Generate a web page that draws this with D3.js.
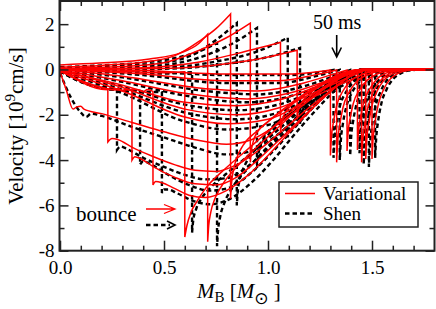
<!DOCTYPE html>
<html><head><meta charset="utf-8">
<script src="https://cdn.jsdelivr.net/npm/d3@7"></script>
<style>
body{margin:0;background:#fff}
svg{display:block}
text{font-family:"Liberation Serif","Times New Roman",serif;fill:#000}
</style></head>
<body><svg id="c" width="436" height="309"></svg>
<script>
// ---- axis ticks ----
const xTickValues=[0,0.5,1.0,1.5];
const xTickLabels=["0.0","0.5","1.0","1.5"];
const xMinorTicks=[0.1,0.2,0.3,0.4,0.6,0.7,0.8,0.9,1.1,1.2,1.3,1.4,1.6,1.7];
const yTickValues=[2,0,-2,-4,-6,-8];
const yTickLabels=["2","0","-2","-4","-6","-8"];
const yMinorTicks=[1,-1,-3,-5,-7];

// ---- Variational EOS: profile inside the shock [M, v] ----
const variationalInner=[
 [[0,-0.1],[0.03,-0.9],[0.063,-1.75],[0.08,-1.65],[0.1,-1.62],[0.115,-1.75],[0.2,-1.95],[0.35,-2.35],[0.5,-2.75],[0.65,-3.1],[0.8,-3.3],[0.92,-3.1],[1.05,-2.4],[1.2,-1.35],[1.32,-0.55],[1.45,0],[1.8,0]],
 [[0,-0.05],[0.08,-0.45],[0.15,-0.75],[0.2,-0.87],[0.23,-0.9]],
 [[0,-0.05],[0.1,-0.5],[0.2,-0.8],[0.26,-0.9],[0.28,-0.83],[0.3,-0.95],[0.32,-0.86],[0.346,-0.95]],
 [[0,-0.05],[0.1,-0.5],[0.2,-0.8],[0.3,-0.92],[0.37,-0.88],[0.4,-0.98],[0.42,-0.88],[0.447,-0.97]],
 [[0,-0.02],[0.3,-0.08],[0.5,-0.15],[0.6,-0.1]],
 [[0,0.2],[0.19,0.28],[0.43,0.46],[0.58,0.73],[0.67,1.17],[0.71,1.56]],
 [[0,0.1],[0.2,0.18],[0.4,0.32],[0.55,0.6],[0.67,1.25],[0.75,1.8],[0.82,2.45]],
 [[0,0.05],[0.3,0.13],[0.5,0.3],[0.67,0.85],[0.8,1.4],[0.915,2.05]],
 [[0,0.02],[0.4,0.08],[0.67,0.33],[0.85,0.7],[1.06,1.2]],
 [[0,0],[0.5,0.04],[0.8,0.25],[1.0,0.55],[1.14,0.85]],
 [[0,0.02],[0.4,-0.05],[0.8,-0.2],[1.1,-0.2],[1.3,-0.02]],
 [[0,0],[0.4,-0.2],[0.8,-0.5],[1.05,-0.5],[1.22,-0.25],[1.33,-0.02]],
 [[0,0],[0.3,-0.3],[0.7,-0.85],[0.95,-0.95],[1.15,-0.65],[1.3,-0.25],[1.38,-0.02]],
 [[0,-0.02],[0.3,-0.5],[0.6,-1.05],[0.9,-1.3],[1.1,-1.05],[1.3,-0.45],[1.43,-0.02]],
 [[0,-0.05],[0.3,-0.7],[0.6,-1.45],[0.85,-1.6],[1.05,-1.35],[1.25,-0.7],[1.45,-0.02]],
 [[0,-0.05],[0.3,-0.8],[0.6,-1.75],[0.85,-2.0],[1.05,-1.7],[1.25,-0.9],[1.47,-0.02]],
 [[0,-0.1],[0.3,-0.95],[0.6,-2.1],[0.8,-2.4],[1.0,-2.2],[1.2,-1.3],[1.5,-0.02]]
];
// ---- Variational EOS: profile outside the shock [M, v] ----
const variationalOuter=[
 [],
 [[0.23,-3.2],[0.25,-3.05],[0.28,-3.1],[0.35,-3.45],[0.45,-3.85],[0.55,-4.2],[0.65,-4.45],[0.75,-4.5],[0.85,-4.2],[0.95,-3.6],[1.05,-2.85],[1.15,-2.05],[1.25,-1.3],[1.35,-0.6],[1.45,0],[1.8,0]],
 [[0.346,-4.0],[0.36,-3.85],[0.39,-3.95],[0.45,-4.3],[0.55,-4.75],[0.65,-5.05],[0.75,-5.1],[0.85,-4.75],[0.95,-4.0],[1.05,-3.15],[1.15,-2.25],[1.25,-1.4],[1.35,-0.6],[1.45,-0.05],[1.8,0]],
 [[0.447,-5.1],[0.46,-4.95],[0.49,-5.0],[0.55,-5.25],[0.62,-5.55],[0.7,-5.65],[0.8,-5.35],[0.9,-4.7],[1.0,-3.8],[1.1,-2.8],[1.2,-1.85],[1.3,-0.95],[1.42,-0.15],[1.5,0],[1.8,0]],
 [[0.6,-7.4],[0.61,-6.9],[0.63,-6.3],[0.66,-5.8],[0.7,-5.25],[0.78,-4.5],[0.88,-3.7],[0.98,-2.9],[1.08,-2.1],[1.18,-1.35],[1.28,-0.7],[1.37,-0.2],[1.45,0],[1.8,0]],
 [[0.71,-7.6],[0.715,-6.9],[0.725,-6.3],[0.745,-5.7],[0.78,-5.1],[0.85,-4.3],[0.95,-3.4],[1.05,-2.55],[1.15,-1.7],[1.25,-0.95],[1.35,-0.35],[1.45,0],[1.8,0]],
 [[0.82,-5.7],[0.825,-5.0],[0.835,-4.4],[0.85,-3.9],[0.88,-3.35],[0.95,-2.7],[1.05,-1.95],[1.15,-1.3],[1.25,-0.7],[1.35,-0.25],[1.45,0],[1.8,0]],
 [[0.915,-4.1],[0.92,-3.6],[0.93,-3.15],[0.95,-2.75],[1.0,-2.3],[1.08,-1.7],[1.18,-1.05],[1.28,-0.5],[1.37,-0.12],[1.45,0],[1.8,0]],
 [[1.06,-2.8],[1.065,-2.4],[1.075,-2.05],[1.1,-1.7],[1.15,-1.3],[1.22,-0.85],[1.3,-0.4],[1.38,-0.1],[1.45,0],[1.8,0]],
 [[1.14,-2.2],[1.145,-1.85],[1.16,-1.5],[1.19,-1.15],[1.25,-0.75],[1.32,-0.38],[1.4,-0.1],[1.46,0],[1.8,0]],
 [[1.30,-3.8],[1.305,-3.0],[1.315,-2.3],[1.33,-1.6],[1.36,-0.95],[1.40,-0.5],[1.46,-0.2],[1.55,-0.04],[1.65,0],[1.8,0]],
 [[1.33,-4.1],[1.335,-3.2],[1.345,-2.45],[1.36,-1.7],[1.39,-1.0],[1.43,-0.5],[1.49,-0.2],[1.57,-0.04],[1.66,0],[1.8,0]],
 [[1.38,-3.6],[1.385,-2.8],[1.395,-2.15],[1.41,-1.5],[1.44,-0.9],[1.48,-0.45],[1.53,-0.18],[1.6,-0.03],[1.68,0],[1.8,0]],
 [[1.43,-3.55],[1.435,-2.75],[1.445,-2.1],[1.46,-1.45],[1.49,-0.85],[1.52,-0.45],[1.57,-0.15],[1.63,-0.03],[1.7,0],[1.8,0]],
 [[1.45,-4.1],[1.455,-3.2],[1.465,-2.4],[1.48,-1.7],[1.505,-1.0],[1.54,-0.5],[1.58,-0.2],[1.64,-0.04],[1.72,0],[1.8,0]],
 [[1.47,-3.95],[1.475,-3.1],[1.485,-2.35],[1.5,-1.6],[1.525,-0.95],[1.555,-0.5],[1.6,-0.18],[1.66,-0.03],[1.74,0],[1.8,0]],
 [[1.50,-3.95],[1.505,-3.1],[1.515,-2.3],[1.53,-1.55],[1.555,-0.9],[1.585,-0.45],[1.625,-0.17],[1.68,-0.03],[1.75,0],[1.8,0]]
];

// ---- Shen EOS: profile inside the shock [M, v] ----
const shenInner=[
 [[0,-0.15],[0.05,-1.2],[0.1,-1.9],[0.125,-2.1],[0.15,-1.95],[0.2,-2.05],[0.35,-2.55],[0.5,-3.0],[0.65,-3.45],[0.8,-3.75],[0.92,-3.6],[1.05,-2.85],[1.2,-1.6],[1.32,-0.65],[1.46,0],[1.8,0]],
 [[0,-0.05],[0.1,-0.5],[0.2,-0.8],[0.274,-0.88]],
 [[0,-0.08],[0.1,-0.55],[0.2,-0.82],[0.3,-0.92],[0.385,-0.95]],
 [[0,-0.08],[0.1,-0.55],[0.25,-0.88],[0.4,-0.98],[0.49,-1.0]],
 [[0,-0.03],[0.3,-0.1],[0.5,-0.18],[0.635,-0.12]],
 [[0,0.1],[0.2,0.18],[0.4,0.3],[0.55,0.5],[0.67,0.8],[0.755,1.16]],
 [[0,0.05],[0.3,0.15],[0.5,0.3],[0.65,0.7],[0.75,1.3],[0.85,2.05]],
 [[0,0.03],[0.4,0.12],[0.6,0.35],[0.75,0.8],[0.85,1.25],[0.947,1.83]],
 [[0,0],[0.5,0.08],[0.75,0.35],[0.95,0.8],[1.095,1.4]],
 [[0,0],[0.5,0.03],[0.8,0.25],[1.0,0.55],[1.154,0.95]],
 [[0,0],[0.4,-0.08],[0.8,-0.25],[1.1,-0.25],[1.315,-0.02]],
 [[0,0],[0.4,-0.25],[0.8,-0.6],[1.05,-0.6],[1.25,-0.25],[1.345,-0.02]],
 [[0,-0.02],[0.3,-0.35],[0.7,-0.95],[0.95,-1.1],[1.15,-0.8],[1.3,-0.35],[1.395,-0.02]],
 [[0,-0.03],[0.3,-0.55],[0.6,-1.15],[0.9,-1.45],[1.1,-1.2],[1.3,-0.55],[1.44,-0.02]],
 [[0,-0.05],[0.3,-0.75],[0.6,-1.55],[0.85,-1.8],[1.05,-1.55],[1.25,-0.85],[1.46,-0.02]],
 [[0,-0.07],[0.3,-0.9],[0.6,-1.9],[0.85,-2.2],[1.05,-1.9],[1.25,-1.0],[1.485,-0.02]],
 [[0,-0.1],[0.3,-1.05],[0.6,-2.3],[0.8,-2.65],[1.0,-2.45],[1.2,-1.45],[1.515,-0.02]]
];
// ---- Shen EOS: profile outside the shock [M, v] ----
const shenOuter=[
 [],
 [[0.274,-3.55],[0.29,-3.4],[0.32,-3.5],[0.4,-3.9],[0.5,-4.3],[0.6,-4.65],[0.7,-4.85],[0.8,-4.8],[0.9,-4.3],[1.0,-3.5],[1.1,-2.6],[1.2,-1.7],[1.3,-0.9],[1.38,-0.35],[1.47,0],[1.8,0]],
 [[0.385,-4.2],[0.4,-4.05],[0.44,-4.2],[0.52,-4.65],[0.62,-5.1],[0.72,-5.35],[0.82,-5.2],[0.92,-4.55],[1.02,-3.65],[1.12,-2.65],[1.22,-1.65],[1.32,-0.8],[1.47,0],[1.8,0]],
 [[0.49,-5.45],[0.5,-5.3],[0.52,-5.3],[0.56,-5.45],[0.64,-5.8],[0.72,-5.95],[0.82,-5.7],[0.92,-5.0],[1.02,-4.05],[1.12,-2.95],[1.22,-1.9],[1.32,-0.95],[1.47,0],[1.8,0]],
 [[0.635,-7.2],[0.64,-6.7],[0.655,-6.15],[0.68,-5.7],[0.72,-5.25],[0.8,-4.6],[0.9,-3.85],[1.0,-3.05],[1.1,-2.25],[1.2,-1.45],[1.3,-0.75],[1.38,-0.25],[1.47,0],[1.8,0]],
 [[0.755,-7.8],[0.76,-7.1],[0.77,-6.5],[0.79,-5.9],[0.83,-5.2],[0.9,-4.4],[1.0,-3.4],[1.1,-2.45],[1.2,-1.55],[1.3,-0.8],[1.38,-0.3],[1.47,0],[1.8,0]],
 [[0.85,-6.0],[0.855,-5.35],[0.865,-4.8],[0.885,-4.3],[0.92,-3.75],[0.98,-3.1],[1.06,-2.35],[1.16,-1.5],[1.26,-0.8],[1.36,-0.28],[1.47,0],[1.8,0]],
 [[0.947,-4.35],[0.952,-3.85],[0.962,-3.4],[0.98,-3.0],[1.02,-2.55],[1.1,-1.9],[1.2,-1.2],[1.3,-0.6],[1.39,-0.15],[1.47,0],[1.8,0]],
 [[1.095,-3.0],[1.1,-2.6],[1.11,-2.25],[1.13,-1.9],[1.18,-1.45],[1.25,-0.95],[1.32,-0.5],[1.4,-0.15],[1.48,0],[1.8,0]],
 [[1.154,-2.4],[1.16,-2.0],[1.175,-1.65],[1.2,-1.3],[1.26,-0.85],[1.33,-0.42],[1.41,-0.12],[1.48,0],[1.8,0]],
 [[1.315,-3.9],[1.32,-3.1],[1.33,-2.4],[1.345,-1.65],[1.375,-1.0],[1.415,-0.52],[1.475,-0.2],[1.56,-0.04],[1.66,0],[1.8,0]],
 [[1.345,-4.0],[1.35,-3.15],[1.36,-2.4],[1.375,-1.7],[1.405,-1.0],[1.445,-0.5],[1.505,-0.2],[1.58,-0.04],[1.67,0],[1.8,0]],
 [[1.395,-3.8],[1.4,-2.95],[1.41,-2.25],[1.425,-1.55],[1.455,-0.92],[1.495,-0.46],[1.545,-0.18],[1.61,-0.03],[1.69,0],[1.8,0]],
 [[1.44,-3.7],[1.445,-2.85],[1.455,-2.15],[1.47,-1.5],[1.5,-0.88],[1.535,-0.45],[1.58,-0.16],[1.64,-0.03],[1.71,0],[1.8,0]],
 [[1.46,-4.2],[1.465,-3.3],[1.475,-2.5],[1.49,-1.75],[1.515,-1.02],[1.55,-0.5],[1.595,-0.2],[1.65,-0.04],[1.73,0],[1.8,0]],
 [[1.485,-4.3],[1.49,-3.35],[1.5,-2.5],[1.515,-1.7],[1.54,-1.0],[1.57,-0.5],[1.615,-0.18],[1.67,-0.03],[1.75,0],[1.8,0]],
 [[1.515,-3.9],[1.52,-3.05],[1.53,-2.25],[1.545,-1.5],[1.57,-0.88],[1.6,-0.44],[1.64,-0.16],[1.69,-0.03],[1.76,0],[1.8,0]]
];

const legendLabels=["Variational","Shen"];

// ---- drawing ----
const X0=59.5,X1=434.5,Y0=1,Y1=250.7;
const svg=d3.select("#c");
const x=d3.scaleLinear().domain([0,1.8]).range([60,434.4]);
const y=d3.scaleLinear().domain([-8,3]).range([250.7,1.5]);

svg.append("defs").append("clipPath").attr("id","clip")
  .append("rect").attr("x",X0).attr("y",Y0).attr("width",X1-X0).attr("height",Y1-Y0);

const line=d3.line().x(d=>x(d[0])).y(d=>y(d[1])).curve(d3.curveMonotoneX);
function profilePath(inner,outer){
  let p=line(inner);
  if(outer.length) p+="L"+line(outer).slice(1);
  return p;
}
const plot=svg.append("g").attr("clip-path","url(#clip)");
const gShen=plot.append("g");
shenInner.forEach((inn,i)=>{
  gShen.append("path").attr("d",profilePath(inn,shenOuter[i]))
    .attr("fill","none").attr("stroke","#000").attr("stroke-width",2.4)
    .attr("stroke-dasharray","4.5,3");
});
const gVar=plot.append("g");
variationalInner.forEach((inn,i)=>{
  gVar.append("path").attr("d",profilePath(inn,variationalOuter[i]))
    .attr("fill","none").attr("stroke","#ff0000").attr("stroke-width",1.5);
});

// axes
function styleAxis(g){
  g.select(".domain").remove();
  g.selectAll("line").attr("stroke","#222").attr("stroke-width",1.5);
  g.selectAll("text").attr("font-family","Liberation Serif, Times New Roman, serif").attr("font-size",19).attr("fill","#000");
}
svg.append("g").attr("transform",`translate(0,${Y1})`)
  .call(d3.axisBottom(x).tickValues(xTickValues).tickSize(-10).tickPadding(10).tickFormat((d,i)=>xTickLabels[i]))
  .call(styleAxis);
svg.append("g").attr("transform",`translate(0,${Y1})`)
  .call(d3.axisBottom(x).tickValues(xMinorTicks).tickSize(-5).tickFormat(""))
  .call(styleAxis);
svg.append("g").attr("transform",`translate(0,${Y0})`)
  .call(d3.axisTop(x).tickValues(xTickValues).tickSize(-10).tickFormat(""))
  .call(styleAxis);
svg.append("g").attr("transform",`translate(0,${Y0})`)
  .call(d3.axisTop(x).tickValues(xMinorTicks).tickSize(-5).tickFormat(""))
  .call(styleAxis);
svg.append("g").attr("transform",`translate(${X0},0)`)
  .call(d3.axisLeft(y).tickValues(yTickValues).tickSize(-9).tickPadding(5).tickFormat((d,i)=>yTickLabels[i]))
  .call(styleAxis);
svg.append("g").attr("transform",`translate(${X0},0)`)
  .call(d3.axisLeft(y).tickValues(yMinorTicks).tickSize(-5).tickFormat(""))
  .call(styleAxis);
svg.append("g").attr("transform",`translate(${X1},0)`)
  .call(d3.axisRight(y).tickValues(yTickValues).tickSize(-9).tickFormat(""))
  .call(styleAxis);
svg.append("g").attr("transform",`translate(${X1},0)`)
  .call(d3.axisRight(y).tickValues(yMinorTicks).tickSize(-5).tickFormat(""))
  .call(styleAxis);

svg.append("rect").attr("x",X0).attr("y",Y0).attr("width",X1-X0).attr("height",Y1-Y0)
  .attr("fill","none").attr("stroke","#222").attr("stroke-width",2);

// axis titles
const yl=svg.append("text").attr("transform","translate(23,126) rotate(-90)")
  .attr("text-anchor","middle").attr("font-size",21);
yl.append("tspan").text("Velocity [10");
yl.append("tspan").attr("font-size",15).attr("dy",-8).text("9");
yl.append("tspan").attr("dy",8).text("cm/s]");

const xl=svg.append("text").attr("x",197).attr("y",298).attr("font-size",21);
xl.append("tspan").attr("font-style","italic").text("M");
xl.append("tspan").attr("font-size",15).attr("dy",4).text("B");
xl.append("tspan").attr("dy",-4).text(" [");
xl.append("tspan").attr("font-style","italic").text("M");
xl.append("tspan").attr("font-size",17).attr("dy",6).attr("font-family","DejaVu Sans").text("⊙");
xl.append("tspan").attr("dy",-6).text(" ]");

// 50 ms annotation
svg.append("text").attr("x",313).attr("y",29).attr("font-size",20).text("50 ms");
svg.append("path").attr("d","M336.7,35V57M332,47.5L336.7,57L341.4,47.5")
  .attr("fill","none").attr("stroke","#000").attr("stroke-width",1.6);

// bounce annotation
svg.append("text").attr("x",76).attr("y",221).attr("font-size",21).text("bounce");
svg.append("path").attr("d","M146,209H175M164,204.5L175,209L164,213.5")
  .attr("fill","none").attr("stroke","#ff0000").attr("stroke-width",1.3);
svg.append("path").attr("d","M146,225H170")
  .attr("fill","none").attr("stroke","#000").attr("stroke-width",2.4).attr("stroke-dasharray","4.5,3");
svg.append("path").attr("d","M167,221L175,225L167,229")
  .attr("fill","none").attr("stroke","#000").attr("stroke-width",1.6);

// legend
const lg=svg.append("g");
lg.append("rect").attr("x",279).attr("y",182).attr("width",139).attr("height",45)
  .attr("fill","#fff").attr("stroke","#222").attr("stroke-width",1.5);
lg.append("line").attr("x1",285).attr("x2",315).attr("y1",193.5).attr("y2",193.5)
  .attr("stroke","#ff0000").attr("stroke-width",1.5);
lg.append("line").attr("x1",285).attr("x2",315).attr("y1",213.5).attr("y2",213.5)
  .attr("stroke","#000").attr("stroke-width",2.4).attr("stroke-dasharray","4.5,3");
lg.append("text").attr("x",323).attr("y",200).attr("font-size",19).text(legendLabels[0]);
lg.append("text").attr("x",323).attr("y",220).attr("font-size",19).text(legendLabels[1]);
</script>
</body></html>
